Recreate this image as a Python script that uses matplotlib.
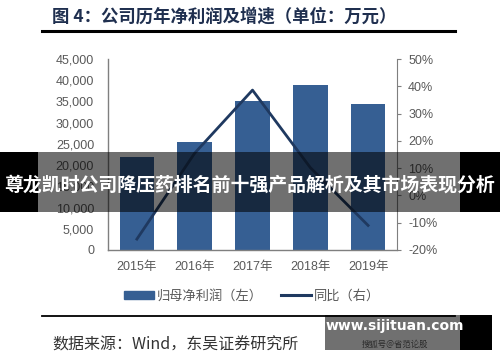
import matplotlib
matplotlib.use("Agg")
import matplotlib.pyplot as plt
from matplotlib.patches import Rectangle
from matplotlib.lines import Line2D
from matplotlib.ticker import FuncFormatter

plt.rcParams['font.family'] = ['Liberation Sans', 'Noto Sans CJK SC', 'DejaVu Sans']

# data
years = ['2015年', '2016年', '2017年', '2018年', '2019年']
profit = [22000, 25400, 35200, 38800, 34500]   # 万元
growth = [-16.0, 15.5, 38.6, 10.2, -11.0]      # %

bar_color = '#365f93'
line_color = '#1f3960'
tick_color = '#595959'
cjk = ['Noto Sans CJK SC', 'DejaVu Sans']

fig = plt.figure(figsize=(5, 3.62), dpi=100)
fig.patch.set_facecolor('white')

ax = fig.add_axes([108/500, 1-250/362, 289/500, 191/362])
x = range(len(years))
ax.bar(x, profit, width=0.6, color=bar_color, zorder=2)
ax.set_xlim(-0.5, len(years)-0.5)
ax.set_ylim(0, 45000)
ax.set_yticks(range(0, 45001, 5000))
ax.yaxis.set_major_formatter(FuncFormatter(lambda v, p: f'{int(v):,}'))
ax.set_xticks(list(x))
ax.set_xticklabels(years, fontfamily=['Liberation Sans', 'Noto Sans CJK SC'])
ax.tick_params(axis='y', length=0, pad=10, labelsize=9, labelcolor=tick_color)
ax.tick_params(axis='x', length=0, pad=8, labelsize=9, labelcolor=tick_color)
for s in ['top', 'right']:
    ax.spines[s].set_visible(False)
for s in ['left', 'bottom']:
    ax.spines[s].set_color('#7f7f7f')
    ax.spines[s].set_linewidth(1.0)

ax2 = ax.twinx()
ax2.plot(list(x), growth, color=line_color, linewidth=2.0, zorder=3)
ax2.set_ylim(-20, 50)
ax2.set_yticks(range(-20, 51, 10))
ax2.yaxis.set_major_formatter(FuncFormatter(lambda v, p: f'{int(v)}%'))
ax2.tick_params(axis='y', length=3, pad=5, labelsize=9, labelcolor=tick_color,
                color='#7f7f7f')
for s in ['top', 'left', 'bottom']:
    ax2.spines[s].set_visible(False)
ax2.spines['right'].set_color('#7f7f7f')

# legend
handles = [Rectangle((0, 0), 1, 1, color=bar_color),
           Line2D([0], [0], color=line_color, linewidth=2.2)]
leg = fig.legend(handles, ['归母净利润（左）', '同比（右）'], loc='center',
                 bbox_to_anchor=(252/500, 1-296/362), ncol=2, frameon=False,
                 handlelength=2.3, handleheight=0.6, columnspacing=1.4,
                 handletextpad=0.2, prop={'family': cjk, 'size': 9.5})
for t in leg.get_texts():
    t.set_color(tick_color)

# title and rules
fig.text(52/500, 1-17/362, '图 4：公司历年净利润及增速（单位：万元）',
         fontfamily=cjk, fontsize=12.5, fontweight='bold', color='#1f2f4f',
         ha='left', va='center')
fig.add_artist(Line2D([42/500, 455/500], [1-31/362, 1-31/362], color='black',
                      linewidth=2.2, transform=fig.transFigure))
fig.add_artist(Line2D([42/500, 455/500], [1-316/362, 1-316/362], color='black',
                      linewidth=1.3, transform=fig.transFigure))
fig.text(52/500, 1-345/362, '数据来源：Wind，东吴证券研究所', fontfamily=cjk,
         fontsize=11.5, color='#333333', ha='left', va='center')

# overlay banner
fig.add_artist(Rectangle((0, 1-212/362), 38/500, 60/362, transform=fig.transFigure,
                         facecolor='black', edgecolor='none', zorder=10))
fig.add_artist(Rectangle((460/500, 1-212/362), 40/500, 60/362, transform=fig.transFigure,
                         facecolor='black', edgecolor='none', zorder=10))
fig.add_artist(Rectangle((38/500, 1-212/362), 422/500, 60/362, transform=fig.transFigure,
                         facecolor='black', alpha=0.56, edgecolor='none', zorder=10))
fig.text(0.5, 1-185/362, '尊龙凯时公司降压药排名前十强产品解析及其市场表现分析',
         fontfamily=cjk, fontsize=13.6, fontweight='bold', color='white',
         ha='center', va='center', zorder=11)

# watermark box
fig.add_artist(Rectangle((325/500, 1-350/362), 135/500, 35/362, transform=fig.transFigure,
                         facecolor='black', alpha=0.56, edgecolor='none', zorder=10))
fig.add_artist(Rectangle((460/500, 1-350/362), 32/500, 35/362, transform=fig.transFigure,
                         facecolor='black', edgecolor='none', zorder=10))
fig.text(395/500, 1-326/362, 'www.sijituan.com', fontfamily='DejaVu Sans',
         fontsize=10, fontweight='bold', color='white', ha='center', va='center',
         zorder=11)
fig.text(395/500, 1-344/362, '搜狐号@省范论股', fontfamily=cjk, fontsize=6,
         color='#2a2a2a', ha='center', va='center', zorder=11)

fig.savefig('out.png', dpi=100)
